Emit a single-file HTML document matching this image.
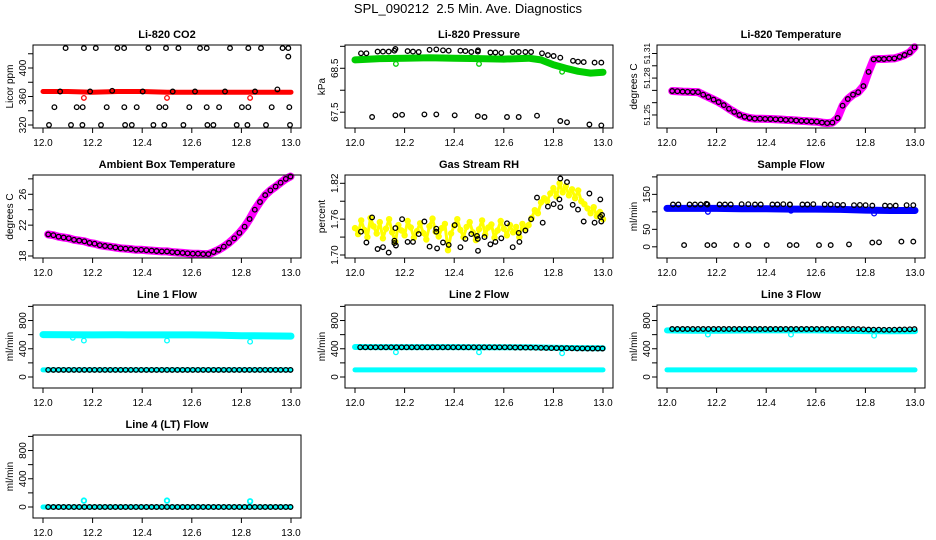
<!DOCTYPE html>
<html><head><meta charset="utf-8">
<style>
html,body{margin:0;padding:0;background:#fff;}
svg{display:block;font-family:"Liberation Sans",Arial,sans-serif;}
</style></head>
<body>
<svg id="chart" width="936" height="540" viewBox="0 0 936 540" xmlns="http://www.w3.org/2000/svg">
<rect x="0" y="0" width="936" height="540" fill="#fff"/>
<text x="468" y="13" font-size="13" text-anchor="middle" xml:space="preserve">SPL_090212  2.5 Min. Ave. Diagnostics</text>
</svg>
<script>
// ---------- shared data ----------
const xTicks = [12.0, 12.2, 12.4, 12.6, 12.8, 13.0];
const xTickLabels = ["12.0", "12.2", "12.4", "12.6", "12.8", "13.0"];
const hourT = [12.021,12.042,12.063,12.083,12.104,12.125,12.146,12.167,12.188,12.208,12.229,12.25,12.271,12.292,12.313,12.333,12.354,12.375,12.396,12.417,12.438,12.458,12.479,12.5,12.521,12.542,12.563,12.583,12.604,12.625,12.646,12.667,12.688,12.708,12.729,12.75,12.771,12.792,12.813,12.833,12.854,12.875,12.896,12.917,12.938,12.958,12.979,12.998];
const bandT = [12.0,12.1,12.2,12.3,12.4,12.5,12.6,12.7,12.8,12.9,13.0];
const dipT = [12.165,12.5,12.835];

// CO2
const co2BandV = [367,367,366,367,367,366,366,366,366,366,366];
const co2RedDipV = [358,358,358];
const co2BlackT = [12.091,12.165,12.213,12.3,12.327,12.425,12.496,12.546,12.633,12.66,12.754,12.828,12.879,12.966,12.989,12.989,
 12.046,12.136,12.16,12.257,12.328,12.378,12.469,12.494,12.59,12.66,12.71,12.802,12.828,12.922,12.993,
 12.024,12.113,12.159,12.234,12.331,12.358,12.445,12.489,12.566,12.663,12.687,12.781,12.824,12.899,12.996,
 12.069,12.19,12.279,12.402,12.523,12.613,12.734,12.855,12.945];
const co2BlackV = [428,428,428,428,428,428,428,428,428,428,428,428,428,428,428,416,
 345,345,345,345,345,345,345,345,345,345,345,345,345,345,345,
 320,320,320,320,320,320,320,320,320,320,320,320,320,320,320,
 367,367,368,367,367,367,367,367,370];

// Pressure
const presBandT = [12.0,12.1,12.2,12.3,12.4,12.5,12.6,12.7,12.75,12.8,12.85,12.9,12.95,13.0];
const presBandV = [68.69,68.72,68.73,68.74,68.73,68.72,68.71,68.73,68.69,68.58,68.50,68.43,68.39,68.41];
const presDipV = [68.6,68.6,68.42];
const presTopT = [12.024,12.046,12.091,12.113,12.136,12.159,12.163,12.212,12.234,12.257,12.301,12.328,12.355,12.378,12.425,12.445,12.469,12.495,12.496,12.546,12.566,12.59,12.636,12.66,12.687,12.71,12.754,12.778,12.801,12.828,12.879,12.899,12.922,12.966,12.993];
const presTopV = [68.84,68.84,68.88,68.88,68.88,68.90,68.94,68.89,68.88,68.87,68.92,68.93,68.91,68.90,68.90,68.89,68.87,68.88,68.91,68.86,68.86,68.85,68.87,68.87,68.87,68.87,68.84,68.80,68.78,68.74,68.67,68.65,68.64,68.63,68.63];
const lowT = [12.069,12.163,12.19,12.28,12.328,12.402,12.495,12.522,12.613,12.66,12.734,12.828,12.855,12.945,12.993];
const presLowV = [67.39,67.43,67.44,67.45,67.45,67.43,67.41,67.39,67.39,67.39,67.42,67.30,67.27,67.22,67.20];

// Li-820 temperature
const tempV = [51.2695,51.2693,51.269,51.2688,51.2687,51.2686,51.2665,51.2645,51.2625,51.2605,51.258,51.255,51.2525,51.25,51.2485,51.2475,51.247,51.247,51.2468,51.2467,51.2465,51.2463,51.246,51.2458,51.2455,51.2452,51.245,51.2447,51.2445,51.2438,51.2434,51.2438,51.2475,51.2575,51.263,51.2665,51.2685,51.2735,51.285,51.2952,51.2955,51.2955,51.2958,51.296,51.2972,51.2988,51.301,51.305];

// Ambient box temperature
const ambV = [20.8,20.7,20.5,20.4,20.3,20.1,20.0,19.9,19.7,19.6,19.4,19.3,19.2,19.1,19.0,18.95,18.9,18.8,18.8,18.75,18.7,18.65,18.6,18.6,18.5,18.45,18.4,18.35,18.3,18.3,18.25,18.25,18.5,18.8,19.2,19.7,20.3,21.0,21.8,22.8,24.0,25.0,25.9,26.5,27.0,27.5,28.0,28.3];

// Gas stream RH
const rhYellowV = [1.745,1.735,1.758,1.742,1.730,1.762,1.748,1.736,1.755,1.728,1.744,1.760,1.738,1.722,1.750,1.741,1.733,1.757,1.746,1.729,1.740,1.753,1.737,1.726,1.748,1.761,1.739,1.731,1.745,1.752,1.708,1.736,1.749,1.760,1.742,1.730,1.747,1.755,1.738,1.725,1.743,1.758,1.734,1.746,1.751,1.729,1.741,1.757,1.744,1.733,1.750,1.738,1.747,1.730,1.752,1.744,
 1.750,1.762,1.775,1.770,1.788,1.795,1.790,1.803,1.812,1.798,
 1.820,1.805,1.815,1.800,1.810,1.795,1.808,1.790,1.785,1.778,1.770,1.780,1.765,1.772,1.760];
const rhBlackT = [12.024,12.046,12.069,12.091,12.113,12.136,12.159,12.159,12.163,12.165,12.19,12.212,12.234,12.257,12.28,12.301,12.328,12.328,12.331,12.355,12.378,12.402,12.425,12.445,12.469,12.492,12.495,12.496,12.522,12.546,12.566,12.59,12.613,12.636,12.66,12.663,12.687,12.71,12.734,12.757,12.778,12.801,12.824,12.828,12.828,12.855,12.878,12.899,12.922,12.945,12.966,12.989,12.989,12.993,12.996];
const rhBlackV = [1.739,1.721,1.763,1.710,1.713,1.704,1.724,1.720,1.745,1.716,1.760,1.722,1.722,1.735,1.756,1.714,1.744,1.739,1.711,1.721,1.717,1.750,1.713,1.727,1.735,1.732,1.727,1.707,1.730,1.718,1.722,1.728,1.753,1.713,1.737,1.722,1.741,1.760,1.796,1.754,1.781,1.785,1.793,1.780,1.828,1.822,1.784,1.776,1.756,1.803,1.754,1.764,1.793,1.756,1.767];

// Sample flow
const sampBandV = [110,110,110,109,109,108,108,107,105,104,104];
const sampDipV = [100,103,95];
const sampTopV = [121,121,121,121,121,123,121,121,121,121,122,122,121,121,121,121,122,121,121,121,121,122,121,121,120,120,119,120,119,118,118,117,118,119,119];
const sampLowV = [5,5,5,5,5,5,5,5,5,5,7,12,13,15,15];

// Line flows
const line1HiV = [600,598,597,598,597,596,596,594,585,582,580];
const line1DipT = [12.12,12.165,12.5,12.835];
const line1DipV = [555,515,515,500];
const lowBandV = [100,100,100,100,100,100,100,100,100,100,100];
const zeroBandV = [0,0,0,0,0,0,0,0,0,0,0];
const line1BlackV = [100,100,100,100,100,100,100,100,100,100,100,100,100,100,100,100,100,100,100,100,100,100,100,100,100,100,100,100,100,100,100,100,100,100,100,100,100,100,100,100,100,100,100,100,100,100,100,100];
const line2HiV = [425,424,424,423,423,422,422,420,415,410,408];
const line2DipV = [350,350,335];
const line2BlackV = [420,420,420,420,420,420,420,420,420,420,420,420,420,420,420,420,420,420,420,420,420,420,420,420,420,420,420,420,420,420,418,418,416,416,415,414,412,410,410,408,408,406,405,405,404,404,403,403];
const line3HiV = [660,655,655,658,660,660,660,655,650,648,650];
const line3DipV = [600,600,585];
const line3BlackV = [680,680,680,680,680,680,680,680,680,680,680,680,680,680,680,680,680,680,680,680,680,680,680,680,680,680,680,680,680,680,680,680,680,680,680,680,678,676,672,670,670,668,668,670,672,674,676,678];
const line4SpikeV = [90,90,80];
const line4BlackV = [0,0,0,0,0,0,0,0,0,0,0,0,0,0,0,0,0,0,0,0,0,0,0,0,0,0,0,0,0,0,0,0,0,0,0,0,0,0,0,0,0,0,0,0,0,0,0,0];

// y axes
const co2Ticks = [320,340,360,380,400,420];   const co2Labels = ["320","","360","","400",""];
const presTicks = [67.5,68.0,68.5,69.0];       const presLabels = ["67.5","","68.5",""];
const tempTicks = [51.25,51.26,51.27,51.28,51.29,51.30]; const tempLabels = ["51.25","","","51.28","","51.31"];
const ambTicks = [18,20,22,24,26,28];          const ambLabels = ["18","","22","","26",""];
const rhTicks = [1.70,1.73,1.76,1.79,1.82];    const rhLabels = ["1.70","","1.76","","1.82"];
const sampTicks = [0,50,100,150,200];          const sampLabels = ["0","50","","150",""];
const flowTicks = [0,200,400,600,800,1000];    const flowLabels = ["0","","400","","800",""];

// ---------- drawing ----------
const NS = "http://www.w3.org/2000/svg";
const svg = document.getElementById("chart");
const COLX = [0, 312, 624];
const ROWT = [45, 175, 305, 435];
const BH = 83;

function mk(tag, parent) {
  const e = document.createElementNS(NS, tag);
  parent.appendChild(e);
  return e;
}

function panel(col, row, name, title, ylab, ylim, ticks, labels, yfs) {
  const cx = COLX[col], T = ROWT[row];
  const g = mk("g", svg);
  
  
  const sx = v => cx + 43 + (v - 12) * 248;
  const sy = v => T + BH - (v - ylim[0]) / (ylim[1] - ylim[0]) * BH;
  const marks = mk("g", g);
  
  
  const box = mk("rect", g);
  
  
  box.setAttribute("x", cx + 33); box.setAttribute("y", T);
  box.setAttribute("width", 268); box.setAttribute("height", BH);
  box.setAttribute("fill", "none"); box.setAttribute("stroke", "#000"); box.setAttribute("stroke-width", "1");
  const t = mk("text", g);
  
  
  t.setAttribute("x", cx + 167); t.setAttribute("y", T - 7);
  t.setAttribute("text-anchor", "middle"); t.setAttribute("font-size", "11"); t.setAttribute("font-weight", "bold");
  t.textContent = title;
  const yl = mk("text", g);
  
  
  const ylx = cx + 13, yly = T + BH / 2;
  yl.setAttribute("transform", "translate(" + ylx + "," + yly + ") rotate(-90)");
  yl.setAttribute("text-anchor", "middle"); yl.setAttribute("font-size", "10");
  yl.textContent = ylab;
  xTicks.forEach((v, i) => {
    const ln = mk("line", g);
    
    
    ln.setAttribute("x1", sx(v)); ln.setAttribute("x2", sx(v));
    ln.setAttribute("y1", T + BH); ln.setAttribute("y2", T + BH + 5);
    ln.setAttribute("stroke", "#000");
    const tx = mk("text", g);
    
    
    tx.setAttribute("x", sx(v)); tx.setAttribute("y", T + BH + 18);
    tx.setAttribute("text-anchor", "middle"); tx.setAttribute("font-size", "10");
    tx.textContent = xTickLabels[i];
  });
  ticks.forEach((v, i) => {
    const ln = mk("line", g);
    
    
    ln.setAttribute("x1", cx + 28); ln.setAttribute("x2", cx + 33);
    ln.setAttribute("y1", sy(v)); ln.setAttribute("y2", sy(v));
    ln.setAttribute("stroke", "#000");
    if (labels[i]) {
      const tx = mk("text", g);
      
      
      tx.setAttribute("transform", "translate(" + (cx + 26) + "," + sy(v) + ") rotate(-90)");
      tx.setAttribute("text-anchor", "middle"); tx.setAttribute("font-size", yfs || 10);
      tx.textContent = labels[i];
    }
  });
  return { g: marks, sx, sy, name };
}

function band(p, ts, vs, color, w) {
  const pl = mk("polyline", p.g);
  
  
  pl.setAttribute("points", ts.map((t, i) => p.sx(t).toFixed(1) + "," + p.sy(vs[i]).toFixed(1)).join(" "));
  pl.setAttribute("fill", "none"); pl.setAttribute("stroke", color);
  pl.setAttribute("stroke-width", w); pl.setAttribute("stroke-linejoin", "round"); pl.setAttribute("stroke-linecap", "round");
}

function pts(p, ts, vs, color, sw) {
  ts.forEach((t, i) => {
    const c = mk("circle", p.g);
    
    
    c.setAttribute("cx", p.sx(t).toFixed(1)); c.setAttribute("cy", p.sy(vs[i]).toFixed(1));
    c.setAttribute("r", "2.3"); c.setAttribute("fill", "none");
    c.setAttribute("stroke", color); c.setAttribute("stroke-width", sw || 1.3);
  });
}

let p = panel(0, 0, "co2", "Li-820 CO2", "Licor ppm", [315.8, 432.3], co2Ticks, co2Labels);
band(p, bandT, co2BandV, "#ff0000", 5);
pts(p, dipT, co2RedDipV, "#ff0000");
pts(p, co2BlackT, co2BlackV, "#000");

p = panel(1, 0, "pressure", "Li-820 Pressure", "kPa", [67.14, 69.03], presTicks, presLabels);
band(p, presBandT, presBandV, "#00cd00", 7);
pts(p, dipT, presDipV, "#00cd00");
pts(p, presTopT, presTopV, "#000");
pts(p, lowT, presLowV, "#000");

p = panel(2, 0, "li820-temp", "Li-820 Temperature", "degrees C", [51.2394, 51.3069], tempTicks, tempLabels, 8.5);
band(p, hourT, tempV, "#ff00ff", 8);
pts(p, hourT, tempV, "#000");

p = panel(0, 1, "ambient-temp", "Ambient Box Temperature", "degrees C", [17.74, 28.5], ambTicks, ambLabels);
band(p, hourT, ambV, "#ff00ff", 8);
pts(p, hourT, ambV, "#000");

p = panel(1, 1, "gas-rh", "Gas Stream RH", "percent", [1.695, 1.8339], rhTicks, rhLabels);
const rhT = rhYellowV.map((v, i) => 12 + i * 0.0125);
band(p, rhT, rhYellowV, "#ffff00", 3);
pts(p, rhT, rhYellowV, "#ffff00", 1.8);
pts(p, rhBlackT, rhBlackV, "#000");

p = panel(2, 1, "sample-flow", "Sample Flow", "ml/min", [-32, 205.4], sampTicks, sampLabels);
band(p, bandT, sampBandV, "#0000ff", 7);
pts(p, dipT, sampDipV, "#0000ff");
pts(p, presTopT, sampTopV, "#000");
pts(p, lowT, sampLowV, "#000");

const flowLim = [-156, 1020];
p = panel(0, 2, "line1-flow", "Line 1 Flow", "ml/min", flowLim, flowTicks, flowLabels);
band(p, bandT, line1HiV, "#00ffff", 7);
pts(p, line1DipT, line1DipV, "#00ffff");
band(p, bandT, lowBandV, "#00ffff", 5);
pts(p, hourT, line1BlackV, "#000");

p = panel(1, 2, "line2-flow", "Line 2 Flow", "ml/min", flowLim, flowTicks, flowLabels);
band(p, bandT, line2HiV, "#00ffff", 6);
pts(p, dipT, line2DipV, "#00ffff");
band(p, bandT, lowBandV, "#00ffff", 5);
pts(p, hourT, line2BlackV, "#000");

p = panel(2, 2, "line3-flow", "Line 3 Flow", "ml/min", flowLim, flowTicks, flowLabels);
band(p, bandT, line3HiV, "#00ffff", 6);
pts(p, dipT, line3DipV, "#00ffff");
band(p, bandT, lowBandV, "#00ffff", 5);
pts(p, hourT, line3BlackV, "#000");

p = panel(0, 3, "line4-flow", "Line 4 (LT) Flow", "ml/min", flowLim, flowTicks, flowLabels);
band(p, bandT, zeroBandV, "#00ffff", 5);
pts(p, dipT, line4SpikeV, "#00ffff", 1.8);
pts(p, hourT, line4BlackV, "#000");
</script>
</body></html>
